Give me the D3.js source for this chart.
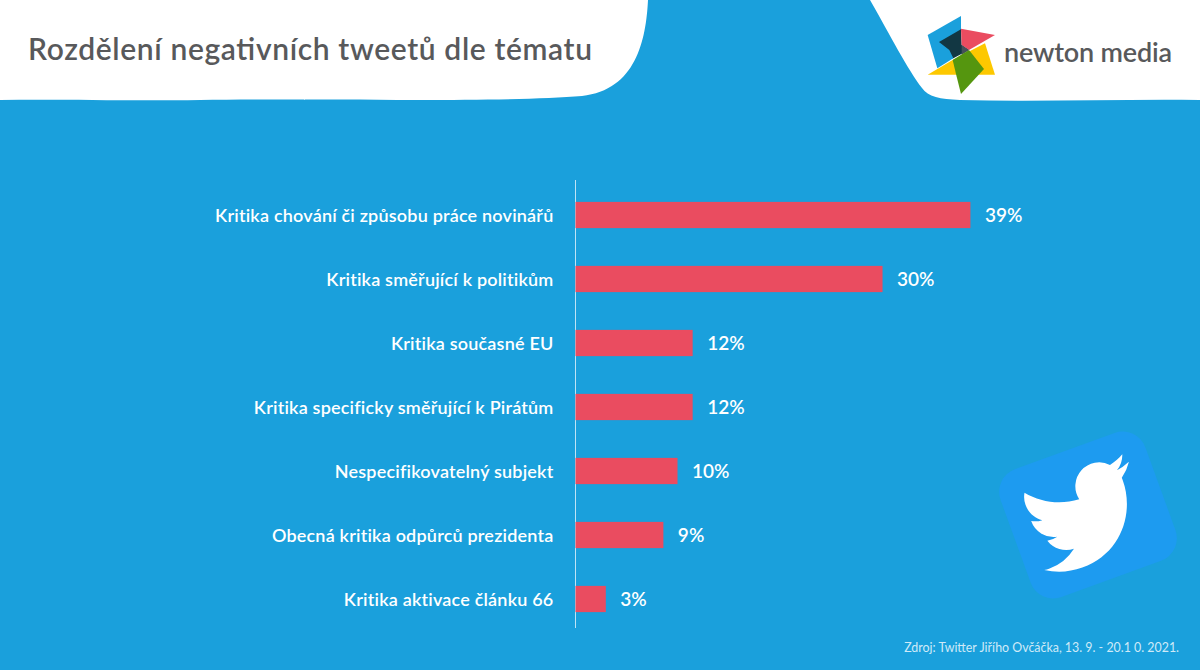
<!DOCTYPE html>
<html>
<head>
<meta charset="utf-8">
<script src="https://cdn.jsdelivr.net/npm/d3@7"></script>
<style>
  html, body { margin: 0; padding: 0; background: #1aa0dc; }
  svg { display: block; }
  text { font-family: "Lato", sans-serif; }
</style>
</head>
<body>
<div id="chart-area"></div>
<script>
const categories = [
  "Kritika chování či způsobu práce novinářů",
  "Kritika směřující k politikům",
  "Kritika současné EU",
  "Kritika specificky směřující k Pirátům",
  "Nespecifikovatelný subjekt",
  "Obecná kritika odpůrců prezidenta",
  "Kritika aktivace článku 66"
]
// bar lengths, labels show them rounded
const values = [39.1, 30.4, 11.6, 11.6, 10.1, 8.7, 3.0]

const titleText = "Rozdělení negativních tweetů dle tématu"
const sourceText = "Zdroj: Twitter Jiřího Ovčáčka, 13. 9. - 20.1 0. 2021."

const WIDTH = 1200
const HEIGHT = 670
const BLUE = "#1aa0dc"
const RED = "#ea4c60"
const GREY = "#58595b"

const svg = d3.select("#chart-area").append("svg")
  .attr("width", WIDTH)
  .attr("height", HEIGHT)

svg.append("rect")
  .attr("width", WIDTH)
  .attr("height", HEIGHT)
  .attr("fill", BLUE)

// White header shapes
svg.append("path")
  .attr("fill", "#fff")
  .attr("d", "M0,0 H648 C646,40 636,90 582,96 C500,103 300,98 200,100 C120,101 60,99 0,100 Z")
svg.append("path")
  .attr("fill", "#fff")
  .attr("d", "M870,0 C890,35 908,70 922,88 C928,97 940,99 960,100 C1040,102 1120,99 1200,100 V0 Z")

svg.append("text")
  .attr("x", 28)
  .attr("y", 60)
  .attr("font-size", "30px")
  .attr("font-weight", 600)
  .attr("fill", GREY)
  .attr("textLength", 564)
  .text(titleText)

// Newton media logo
const logo = svg.append("g").attr("transform", "translate(860, 0) scale(0.3333)")
const logoShapes = [
  ["#1aa0dc", "203,105 303,48 303,150 280,175 232,205"],
  ["#fdc800", "203,224 278,180 375,130 405,224"],
  ["#123743", "237,126 303,88 305,135 327,150 280,175 268,150"],
  ["#ea4c60", "303,86 405,105 327,150 305,135"],
  ["#44505a", "305,135 327,150 305,165"],
  ["#55960f", "278,180 327,150 372,207 303,282 290,230"]
]
logo.selectAll("polygon")
  .data(logoShapes)
  .enter().append("polygon")
    .attr("fill", d => d[0])
    .attr("points", d => d[1])

svg.append("text")
  .attr("x", 1004)
  .attr("y", 62)
  .attr("font-size", "27px")
  .attr("font-weight", 600)
  .attr("fill", GREY)
  .attr("textLength", 168)
  .text("newton media")

// Chart
const MARGIN = { LEFT: 575.5, TOP: 180, BOTTOM: 628 }

const x = d3.scaleLinear()
  .domain([0, 40])
  .range([MARGIN.LEFT, MARGIN.LEFT + 404])

const y = d3.scaleBand()
  .domain(categories)
  .range([MARGIN.TOP + 3, MARGIN.BOTTOM + 3])
  .paddingInner(0.59)
  .paddingOuter(0.295)

const yAxisCall = d3.axisLeft(y).tickSize(0).tickPadding(22)
const yAxis = svg.append("g")
  .attr("class", "y axis")
  .attr("transform", `translate(${MARGIN.LEFT}, 0)`)
  .call(yAxisCall)
yAxis.select(".domain").remove()
yAxis.selectAll("text")
  .attr("font-size", "18px")
  .attr("font-weight", 600)
  .attr("font-family", "Lato")
  .attr("letter-spacing", "0.2px")
  .attr("dy", "0.4em")
  .attr("fill", "#fff")

svg.append("line")
  .attr("x1", MARGIN.LEFT)
  .attr("x2", MARGIN.LEFT)
  .attr("y1", MARGIN.TOP)
  .attr("y2", MARGIN.BOTTOM)
  .attr("stroke", "#bfe3f5")
  .attr("stroke-width", 1)

svg.selectAll("rect.bar")
  .data(values)
  .enter().append("rect")
    .attr("class", "bar")
    .attr("x", x(0))
    .attr("y", (d, i) => y(categories[i]))
    .attr("width", d => x(d) - x(0))
    .attr("height", y.bandwidth())
    .attr("fill", RED)

svg.selectAll("text.value")
  .data(values)
  .enter().append("text")
    .attr("class", "value")
    .attr("x", d => x(d) + 14.5)
    .attr("y", (d, i) => y(categories[i]) + y.bandwidth() / 2 + 7)
    .attr("font-size", "19px")
    .attr("font-weight", 600)
    .attr("fill", "#fff")
    .text(d => Math.round(d) + "%")

// Twitter badge
const badge = svg.append("g").attr("transform", "translate(1088, 515) rotate(-20)")
badge.append("rect")
  .attr("x", -77)
  .attr("y", -68)
  .attr("width", 154)
  .attr("height", 136)
  .attr("rx", 24)
  .attr("fill", "#1d9bf0")
badge.append("path")
  .attr("transform", "translate(-60, -58) scale(4.85)")
  .attr("fill", "#fff")
  .attr("d", "M23.953 4.57a10 10 0 01-2.825.775 4.958 4.958 0 002.163-2.723c-.951.555-2.005.959-3.127 1.184a4.92 4.92 0 00-8.384 4.482C7.69 8.095 4.067 6.13 1.64 3.162a4.822 4.822 0 00-.666 2.475c0 1.71.87 3.213 2.188 4.096a4.904 4.904 0 01-2.228-.616v.06a4.923 4.923 0 003.946 4.827 4.996 4.996 0 01-2.212.085 4.936 4.936 0 004.604 3.417 9.867 9.867 0 01-6.102 2.105c-.39 0-.779-.023-1.17-.067a13.995 13.995 0 007.557 2.209c9.053 0 13.998-7.496 13.998-13.985 0-.21 0-.42-.015-.63A9.935 9.935 0 0024 4.59z")

svg.append("text")
  .attr("x", 1179)
  .attr("y", 652)
  .attr("text-anchor", "end")
  .attr("font-size", "12.4px")
  .attr("fill", "#cfeaf8")
  .text(sourceText)
</script>
</body>
</html>
